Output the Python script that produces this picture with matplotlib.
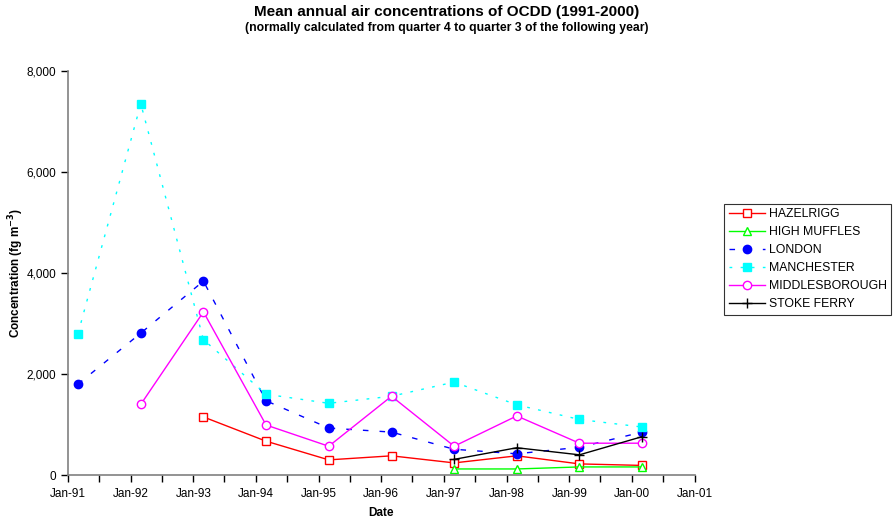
import matplotlib
matplotlib.use("Agg")
import matplotlib.pyplot as plt
import matplotlib.dates as mdates
from matplotlib.ticker import FuncFormatter
from datetime import datetime

plt.rcParams['font.family'] = ['Liberation Sans', 'DejaVu Sans']

years_all = [1991, 1992, 1993, 1994, 1995, 1996, 1997, 1998, 1999, 2000]

hazelrigg_years = [1993, 1994, 1995, 1996, 1997, 1998, 1999, 2000]
hazelrigg = [1150, 670, 300, 380, 240, 380, 220, 190]

high_muffles_years = [1997, 1998, 1999, 2000]
high_muffles = [120, 120, 160, 160]

london_years = years_all
london = [1800, 2810, 3840, 1470, 930, 850, 510, 420, 550, 850]

manchester_years = years_all
manchester = [2800, 7350, 2680, 1600, 1420, 1560, 1840, 1390, 1100, 950]

middles_years = [1992, 1993, 1994, 1995, 1996, 1997, 1998, 1999, 2000]
middles = [1400, 3230, 990, 570, 1560, 570, 1170, 630, 630]

stoke_years = [1997, 1998, 1999, 2000]
stoke = [310, 540, 400, 760]


def dates(yrs):
    return [datetime(y, 3, 1) for y in yrs]


fig = plt.figure(figsize=(8.93, 5.22), dpi=100)
ax = fig.add_axes([0.076, 0.090, 0.702, 0.774])

ax.plot(dates(hazelrigg_years), hazelrigg, color='#ff0000', lw=1, marker='s',
        ms=6, mfc='white', mec='#ff0000', label='HAZELRIGG')
ax.plot(dates(high_muffles_years), high_muffles, color='#00ff00', lw=1, marker='^',
        ms=6, mfc='white', mec='#00ff00', label='HIGH MUFFLES')
ax.plot(dates(london_years), london, color='#0000ff', lw=1, ls=(0, (4, 8)),
        marker='o', ms=6, mfc='#0000ff', mec='#0000ff', label='LONDON')
ax.plot(dates(manchester_years), manchester, color='#00ffff', lw=1, ls=(0, (2, 6)),
        marker='s', ms=6, mfc='#00ffff', mec='#00ffff', label='MANCHESTER')
ax.plot(dates(middles_years), middles, color='#ff00ff', lw=1, marker='o',
        ms=6, mfc='white', mec='#ff00ff', label='MIDDLESBOROUGH')
ax.plot(dates(stoke_years), stoke, color='black', lw=1, marker='+',
        ms=7, mec='black', label='STOKE FERRY')

ax.set_xlim(datetime(1991, 1, 1), datetime(2001, 1, 1))
ax.set_ylim(0, 8000)
ax.xaxis.set_major_locator(mdates.YearLocator())
ax.xaxis.set_minor_locator(mdates.MonthLocator(bymonth=7))
ax.xaxis.set_major_formatter(mdates.DateFormatter('Jan-%y'))
ax.set_yticks([0, 2000, 4000, 6000, 8000])
ax.yaxis.set_major_formatter(FuncFormatter(lambda v, p: f'{int(v):,}'))

for s in ['top', 'right']:
    ax.spines[s].set_visible(False)
for s in ['left', 'bottom']:
    ax.spines[s].set_color('#808080')
    ax.spines[s].set_linewidth(1.2)
ax.tick_params(axis='both', which='both', direction='out', labelsize=8.5,
               color='black', width=1)
ax.tick_params(axis='x', which='major', length=5, pad=4)
ax.tick_params(axis='x', which='minor', length=5)
ax.tick_params(axis='y', length=5)

ax.set_xlabel('Date', fontsize=8.5, fontweight='bold')
ax.set_ylabel('Concentration (fg m$^{\\mathbf{-3}}$)', fontsize=8.5,
              fontweight='bold')
ax.xaxis.set_label_coords(0.5, -0.08)
ax.yaxis.set_label_coords(-0.066, 0.5)

fig.text(0.5, 0.99, 'Mean annual air concentrations of OCDD (1991-2000)',
         ha='center', va='top', fontsize=11, fontweight='bold')
fig.text(0.5, 0.958, '(normally calculated from quarter 4 to quarter 3 of the following year)',
         ha='center', va='top', fontsize=8.8, fontweight='bold')

leg = fig.legend(loc='upper left', bbox_to_anchor=(0.811, 0.61), fontsize=8.8,
                 frameon=True, fancybox=False, edgecolor='black',
                 handlelength=3.0, handletextpad=0.3, borderpad=0.35,
                 labelspacing=0.5, borderaxespad=0)
leg.get_frame().set_linewidth(0.8)

fig.savefig('out.png', dpi=100)
